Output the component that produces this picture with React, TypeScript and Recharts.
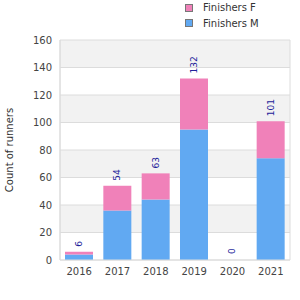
import { Bar, BarChart, CartesianGrid, LabelList, Legend, XAxis, YAxis } from "recharts";

const years = ["2016", "2017", "2018", "2019", "2020", "2021"];
const finishersM = [4, 36, 44, 95, 0, 74];
const finishersF = [2, 18, 19, 37, 0, 27];
const yTicks = [0, 20, 40, 60, 80, 100, 120, 140, 160];

const series = [
    { key: "f", name: "Finishers F", color: "#F081B9" },
    { key: "m", name: "Finishers M", color: "#61A9F2" },
];

const data = years.map((year, i) => ({
    year,
    m: finishersM[i],
    f: finishersF[i],
    total: finishersM[i] + finishersF[i],
}));

const font = "'DejaVu Sans', sans-serif";

const TotalLabel = (props: any) => {
    const { x, y, width, value } = props;
    const cx = x + width / 2;
    const ty = y - 5;
    return (
        <text
            x={cx}
            y={ty}
            transform={`rotate(-90 ${cx} ${ty})`}
            textAnchor="start"
            dominantBaseline="central"
            fontSize={9}
            fontFamily={font}
            fill="#22229a"
        >
            {value}
        </text>
    );
};

const LegendBox = () => (
    <div style={{ fontFamily: font, fontSize: 10, color: "#333" }}>
        {series.map((s) => (
            <div key={s.key} style={{ display: "flex", alignItems: "center", height: 15.5 }}>
                <span
                    style={{
                        display: "inline-block",
                        width: 6,
                        height: 6,
                        background: s.color,
                        border: "1px solid #777",
                        marginRight: 10,
                    }}
                />
                {s.name}
            </div>
        ))}
    </div>
);

const YLabel = (props: any) => {
    const { viewBox } = props;
    const lx = viewBox.x + 9;
    const ly = viewBox.y + viewBox.height / 2;
    return (
        <text
            x={lx}
            y={ly}
            transform={`rotate(-90 ${lx} ${ly})`}
            textAnchor="middle"
            dominantBaseline="central"
            fontSize={10}
            fontFamily={font}
            fill="#333"
        >
            Count of runners
        </text>
    );
};

export default function App() {
    return (
        <div style={{ position: "absolute", left: 0, top: 0 }}>
            <BarChart
                width={300}
                height={300}
                data={data}
                margin={{ top: 40, right: 10, bottom: 10, left: 0 }}
            >
                <CartesianGrid
                    stroke="#dcdcdc"
                    horizontalFill={["#f2f2f2", "#ffffff"]}
                    verticalCoordinatesGenerator={({ offset }: any) => [offset.left, offset.left + offset.width]}
                />
                <XAxis
                    dataKey="year"
                    height={30}
                    tickLine={false}
                    axisLine={{ stroke: "#dcdcdc" }}
                    tick={{ fontSize: 10, fontFamily: font, fill: "#444" }}
                />
                <XAxis xAxisId="labels" dataKey="year" hide />
                <YAxis
                    width={60}
                    domain={[0, 160]}
                    ticks={yTicks}
                    tickLine={false}
                    axisLine={{ stroke: "#dcdcdc" }}
                    tick={{ fontSize: 10, fontFamily: font, fill: "#444" }}
                    label={<YLabel />}
                />
                <Legend
                    layout="vertical"
                    align="center"
                    verticalAlign="middle"
                    wrapperStyle={{ top: 0, left: 185, width: 110, height: 32 }}
                    content={<LegendBox />}
                />
                <Bar dataKey="m" name="Finishers M" stackId="a" fill="#61A9F2" barSize={28} isAnimationActive={false} />
                <Bar dataKey="f" name="Finishers F" stackId="a" fill="#F081B9" barSize={28} isAnimationActive={false} />
                {/* invisible total bar, only carries the value labels (minPointSize keeps the 0 one) */}
                <Bar
                    dataKey="total"
                    xAxisId="labels"
                    fill="transparent"
                    barSize={28}
                    minPointSize={1}
                    isAnimationActive={false}
                >
                    <LabelList dataKey="total" content={<TotalLabel />} />
                </Bar>
            </BarChart>
        </div>
    );
}
